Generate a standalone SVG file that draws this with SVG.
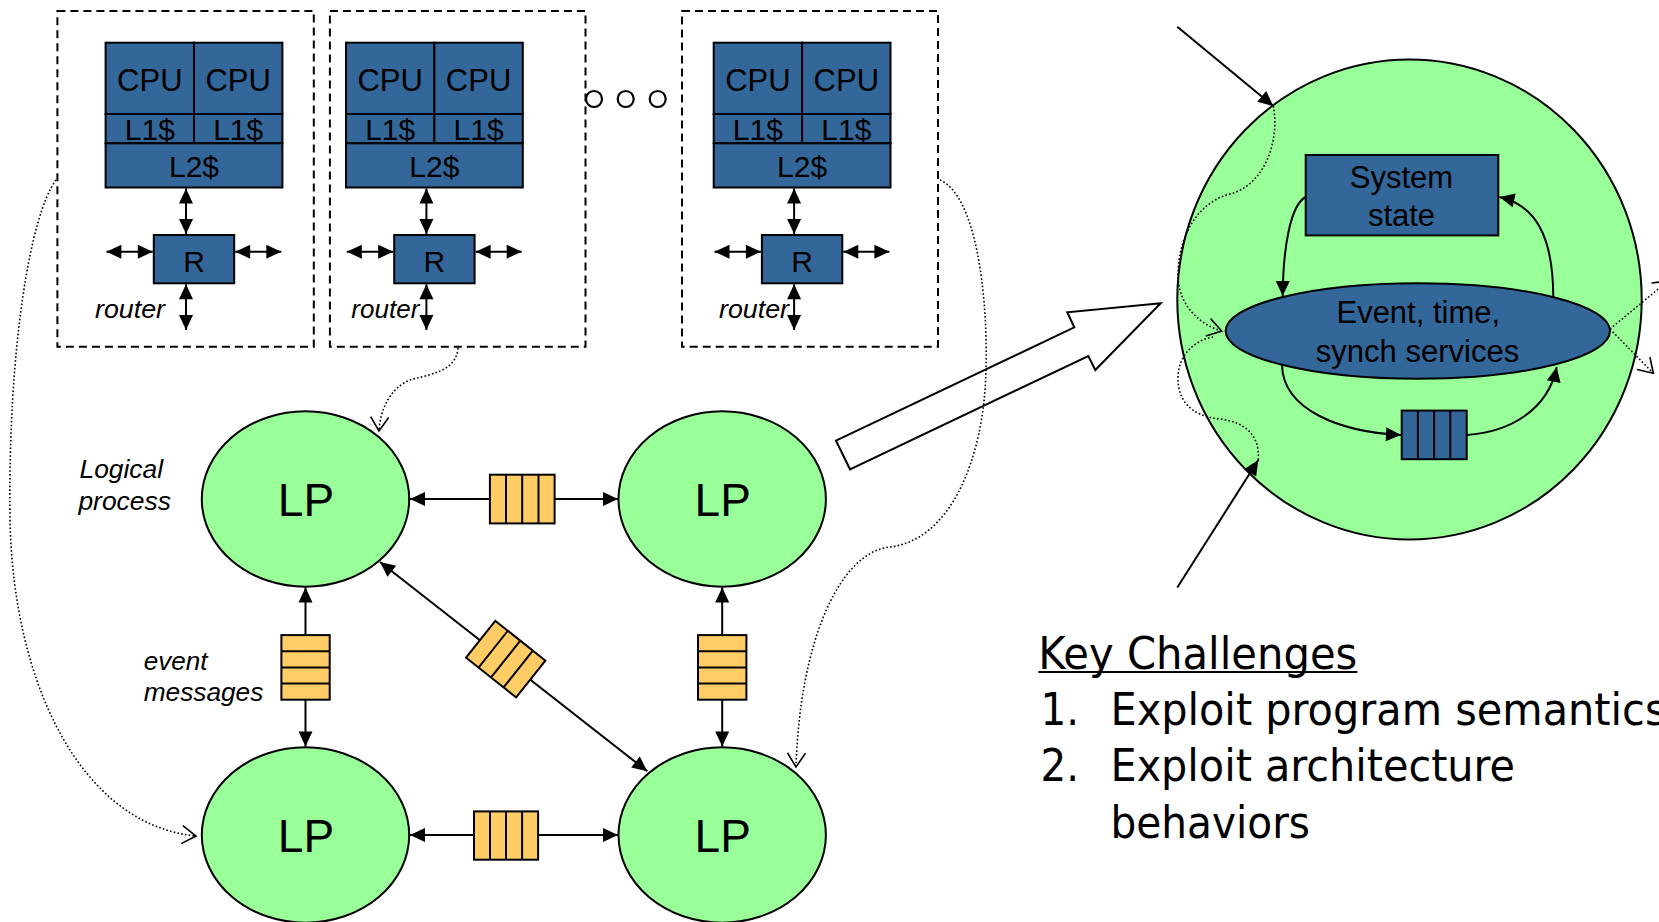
<svg xmlns="http://www.w3.org/2000/svg" width="1659" height="922" viewBox="0 0 1659 922">
  <defs>
    <style>
      .frame { fill: none; stroke: #000; stroke-width: 2; stroke-dasharray: 8 5; }
      .blue { fill: #336699; stroke: #000; stroke-width: 2; }
      .lp { fill: #99FF99; stroke: #000; stroke-width: 2; }
      .q { fill: #FFCC66; stroke: #000; stroke-width: 2; }
      .qb { fill: #336699; stroke: #000; stroke-width: 2; }
      .div { stroke: #000; stroke-width: 2; }
      .ring { fill: #fff; stroke: #000; stroke-width: 2.2; }
      .line { fill: none; stroke: #000; stroke-width: 2; }
      .one { fill: none; stroke: #000; stroke-width: 2; marker-end: url(#ah); }
      .two { fill: none; stroke: #000; stroke-width: 2; marker-start: url(#ah); marker-end: url(#ah); }
      .dot { fill: none; stroke: #000; stroke-width: 1.6; stroke-dasharray: 1.6 2.2; }
      .dota { fill: none; stroke: #000; stroke-width: 1.6; stroke-dasharray: 1.6 2.2; marker-end: url(#oh); }
      .block { fill: #fff; stroke: #000; stroke-width: 2; stroke-linejoin: miter; }
      text { font-family: "Liberation Sans", Arial, sans-serif; fill: #000; }
      .cpu { font-size: 31px; text-anchor: middle; }
      .lbl { font-size: 30px; text-anchor: middle; }
      .lpt { font-size: 46px; text-anchor: middle; }
      .ital { font-size: 26px; font-style: italic; }
      .svc { font-size: 31px; text-anchor: middle; }
      .key { font-family: "DejaVu Sans Condensed", "DejaVu Sans", Tahoma, sans-serif; font-size: 45px; }
    </style>
    <marker id="ah" viewBox="-16 -8 17 16" refX="0" refY="0" markerWidth="17" markerHeight="16" markerUnits="userSpaceOnUse" orient="auto-start-reverse">
      <path d="M0,0 L-15,-7 L-15,7 Z" fill="#000"/>
    </marker>
    <marker id="oh" viewBox="-17 -11 19 22" refX="0" refY="0" markerWidth="19" markerHeight="22" markerUnits="userSpaceOnUse" orient="auto">
      <path d="M-14,-9 L0,0 L-14,9" fill="none" stroke="#000" stroke-width="1.6"/>
    </marker>
  </defs>

  <rect width="1659" height="922" fill="#fff"/>

  <!-- processor tiles: two cores, private L1, shared L2, router -->
  <g id="tile-1">
    <rect class="frame" x="57.4" y="11" width="256.4" height="335.7"/>
    <rect class="blue" x="105.6" y="42.7" width="88.4" height="71.3"/>
    <rect class="blue" x="194" y="42.7" width="88.4" height="71.3"/>
    <rect class="blue" x="105.6" y="114" width="88.4" height="29.3"/>
    <rect class="blue" x="194" y="114" width="88.4" height="29.3"/>
    <rect class="blue" x="105.6" y="143.3" width="176.8" height="44.2"/>
    <rect class="blue" x="153.8" y="235" width="80.4" height="48.3"/>
    <text class="cpu" x="149.8" y="90.7">CPU</text>
    <text class="cpu" x="238.2" y="90.7">CPU</text>
    <text class="lbl" x="149.8" y="140">L1$</text>
    <text class="lbl" x="238.2" y="140">L1$</text>
    <text class="lbl" x="194" y="176.7">L2$</text>
    <text class="lbl" x="194" y="271.7">R</text>
    <text class="ital" x="95" y="318" textLength="70" lengthAdjust="spacingAndGlyphs">router</text>
  </g>

  <g id="tile-2">
    <rect class="frame" x="329.9" y="11" width="255.6" height="335.7"/>
    <rect class="blue" x="346" y="42.7" width="88.4" height="71.3"/>
    <rect class="blue" x="434.4" y="42.7" width="88.4" height="71.3"/>
    <rect class="blue" x="346" y="114" width="88.4" height="29.3"/>
    <rect class="blue" x="434.4" y="114" width="88.4" height="29.3"/>
    <rect class="blue" x="346" y="143.3" width="176.8" height="44.2"/>
    <rect class="blue" x="394.2" y="235" width="80.4" height="48.3"/>
    <text class="cpu" x="390.2" y="90.7">CPU</text>
    <text class="cpu" x="478.6" y="90.7">CPU</text>
    <text class="lbl" x="390.2" y="140">L1$</text>
    <text class="lbl" x="478.6" y="140">L1$</text>
    <text class="lbl" x="434.4" y="176.7">L2$</text>
    <text class="lbl" x="434.4" y="271.7">R</text>
    <text class="ital" x="351.3" y="318" textLength="68" lengthAdjust="spacingAndGlyphs">router</text>
  </g>

  <g id="ellipsis">
    <circle class="ring" cx="594" cy="99" r="8"/>
    <circle class="ring" cx="625.7" cy="99" r="8"/>
    <circle class="ring" cx="657.7" cy="99" r="8"/>
  </g>

  <g id="tile-n">
    <rect class="frame" x="682" y="11" width="256" height="335.7"/>
    <rect class="blue" x="713.7" y="42.7" width="88.4" height="71.3"/>
    <rect class="blue" x="802.1" y="42.7" width="88.4" height="71.3"/>
    <rect class="blue" x="713.7" y="114" width="88.4" height="29.3"/>
    <rect class="blue" x="802.1" y="114" width="88.4" height="29.3"/>
    <rect class="blue" x="713.7" y="143.3" width="176.8" height="44.2"/>
    <rect class="blue" x="761.9" y="235" width="80.4" height="48.3"/>
    <text class="cpu" x="757.9" y="90.7">CPU</text>
    <text class="cpu" x="846.3" y="90.7">CPU</text>
    <text class="lbl" x="757.9" y="140">L1$</text>
    <text class="lbl" x="846.3" y="140">L1$</text>
    <text class="lbl" x="802.1" y="176.7">L2$</text>
    <text class="lbl" x="802.1" y="271.7">R</text>
    <text class="ital" x="719" y="318" textLength="70" lengthAdjust="spacingAndGlyphs">router</text>
  </g>

  <!-- logical processes -->
  <g id="lp-nw">
    <ellipse class="lp" cx="305.5" cy="499" rx="103.7" ry="87.7"/>
    <text class="lpt" x="306" y="516.3">LP</text>
  </g>
  <g id="lp-ne">
    <ellipse class="lp" cx="722.2" cy="499" rx="103.7" ry="87.7"/>
    <text class="lpt" x="722.7" y="516.3">LP</text>
  </g>
  <g id="lp-sw">
    <ellipse class="lp" cx="305.5" cy="835" rx="103.7" ry="87.7"/>
    <text class="lpt" x="306" y="852.2">LP</text>
  </g>
  <g id="lp-se">
    <ellipse class="lp" cx="722.2" cy="835" rx="103.7" ry="87.7"/>
    <text class="lpt" x="722.7" y="852.2">LP</text>
  </g>

  <g id="labels">
    <text class="ital" x="79.5" y="478" textLength="83.5" lengthAdjust="spacingAndGlyphs">Logical</text>
    <text class="ital" x="78.4" y="510" textLength="92.6" lengthAdjust="spacingAndGlyphs">process</text>
    <text class="ital" x="143.7" y="670.4" textLength="63.7" lengthAdjust="spacingAndGlyphs">event</text>
    <text class="ital" x="143.7" y="700.8" textLength="119.6" lengthAdjust="spacingAndGlyphs">messages</text>
  </g>

  <!-- expanded view of one logical process -->
  <g id="lp-detail">
    <ellipse class="lp" cx="1409.5" cy="299.5" rx="232.2" ry="240"/>
  </g>
  <g id="system-state">
    <rect class="blue" x="1305.7" y="155" width="192.6" height="80.4"/>
    <text class="svc" x="1401.5" y="187.5">System</text>
    <text class="svc" x="1401.5" y="225.8">state</text>
  </g>
  <g id="services">
    <ellipse class="blue" cx="1417.8" cy="331" rx="192.2" ry="47.8"/>
    <text class="svc" x="1418.3" y="323.4">Event, time,</text>
    <text class="svc" x="1417.5" y="361.6">synch services</text>
  </g>

  <g id="connectors">
    <!-- tile links: core side, router ports -->
    <line class="two" x1="186" y1="188.5" x2="186" y2="234"/>
    <line class="two" x1="186" y1="284.3" x2="186" y2="330"/>
    <line class="two" x1="106.4" y1="251.7" x2="152.8" y2="251.7"/>
    <line class="two" x1="235.2" y1="251.7" x2="281.3" y2="251.7"/>

    <line class="two" x1="426.4" y1="188.5" x2="426.4" y2="234"/>
    <line class="two" x1="426.4" y1="284.3" x2="426.4" y2="330"/>
    <line class="two" x1="346.8" y1="251.7" x2="393.2" y2="251.7"/>
    <line class="two" x1="475.6" y1="251.7" x2="521.7" y2="251.7"/>

    <line class="two" x1="794.1" y1="188.5" x2="794.1" y2="234"/>
    <line class="two" x1="794.1" y1="284.3" x2="794.1" y2="330"/>
    <line class="two" x1="714.5" y1="251.7" x2="760.9" y2="251.7"/>
    <line class="two" x1="843.3" y1="251.7" x2="889.4" y2="251.7"/>

    <!-- LP links -->
    <line class="two" x1="410" y1="499" x2="618" y2="499"/>
    <line class="two" x1="410" y1="835" x2="618" y2="835"/>
    <line class="two" x1="305.5" y1="587.5" x2="305.5" y2="746.5"/>
    <line class="two" x1="722.2" y1="587.5" x2="722.2" y2="746.5"/>
    <line class="two" x1="380" y1="562" x2="647.3" y2="771.3"/>

    <!-- zoom-in block arrow -->
    <polygon class="block" points="836,440.7 1074.3,327.3 1067.3,312.3 1160.7,303.3 1095.3,370 1088.3,356 850,469.3"/>

    <!-- mapping of tiles onto LPs -->
    <path class="dota" d="M56,180 C30,215 8,350 10,517 C12,680 80,825 196,836"/>
    <path class="dota" d="M458,348 C456,372 430,374 410,380 C390,388 380,410 379,431"/>
    <path class="dota" d="M940,180 C975,195 988,290 986,370 C984,460 950,540 890,547 C840,552 800,640 796,767"/>

    <!-- incoming / outgoing messages of the expanded LP -->
    <line class="one" x1="1177.3" y1="26.8" x2="1273.3" y2="106"/>
    <line class="one" x1="1177.3" y1="587.5" x2="1258.3" y2="460"/>
    <path class="dota" d="M1273.3,106 C1280,140 1265,185 1230,194 C1195,203 1178,240 1178,275 C1178,305 1200,325 1221.7,331"/>
    <path class="dot" d="M1258.3,460 C1260,435 1245,422 1220,419 C1190,416 1178,400 1178,378 C1178,355 1195,340 1213,337"/>
    <path class="dota" d="M1610,329 L1668,281"/>
    <path class="dota" d="M1610,329 L1653.3,373.3"/>

    <!-- internal event loop -->
    <path class="one" d="M1305.7,197 C1290,205 1283,250 1282.7,296"/>
    <path class="one" d="M1553.3,297 C1553,235 1535,205 1499.5,197"/>
    <path class="one" d="M1282,365 C1283,410 1340,432 1401,435"/>
    <path class="one" d="M1466.7,435 C1510,432 1548,410 1556.7,367"/>
  </g>

  <!-- event message queues -->
  <g id="queue-n">
    <rect class="q" x="489.9" y="474.7" width="64.7" height="48.7"/>
    <path class="div" d="M506,474.7 V523.4 M522.2,474.7 V523.4 M538.5,474.7 V523.4"/>
  </g>
  <g id="queue-s">
    <rect class="q" x="474" y="811.4" width="64.1" height="48.3"/>
    <path class="div" d="M490,811.4 V859.7 M506,811.4 V859.7 M522.1,811.4 V859.7"/>
  </g>
  <g id="queue-w">
    <rect class="q" x="281.4" y="635.1" width="48.3" height="64.6"/>
    <path class="div" d="M281.4,651.2 H329.7 M281.4,667.4 H329.7 M281.4,683.5 H329.7"/>
  </g>
  <g id="queue-e">
    <rect class="q" x="698" y="635.1" width="48.4" height="64.6"/>
    <path class="div" d="M698,651.2 H746.4 M698,667.4 H746.4 M698,683.5 H746.4"/>
  </g>
  <g id="queue-diag" transform="translate(505.7 659.1) rotate(38.5)">
    <rect class="q" x="-32" y="-23.5" width="64" height="47"/>
    <path class="div" d="M-16,-23.5 V23.5 M0,-23.5 V23.5 M16,-23.5 V23.5"/>
  </g>
  <g id="queue-internal">
    <rect class="qb" x="1401.7" y="410.6" width="65" height="48.6"/>
    <path class="div" d="M1417.9,410.6 V459.2 M1434.1,410.6 V459.2 M1450.3,410.6 V459.2"/>
  </g>

  <!-- challenges list -->
  <g id="challenges">
    <text class="key" x="1038.3" y="668.5" textLength="319" lengthAdjust="spacingAndGlyphs">Key Challenges</text>
    <line class="line" x1="1038.3" y1="672" x2="1357.4" y2="672" stroke-width="2.6"/>
    <text class="key" x="1040.4" y="724.5">1.</text>
    <text class="key" x="1110.5" y="724.5" textLength="556" lengthAdjust="spacingAndGlyphs">Exploit program semantics</text>
    <text class="key" x="1040.4" y="781">2.</text>
    <text class="key" x="1110.5" y="781" textLength="404.5" lengthAdjust="spacingAndGlyphs">Exploit architecture</text>
    <text class="key" x="1110.5" y="838" textLength="199.5" lengthAdjust="spacingAndGlyphs">behaviors</text>
  </g>
</svg>
